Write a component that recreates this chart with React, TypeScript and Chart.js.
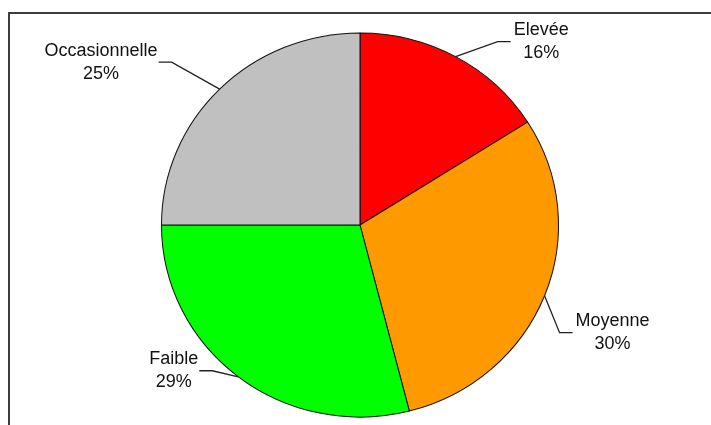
import React, { useEffect, useRef } from "react";
import { Chart, registerables } from "chart.js";

Chart.register(...registerables);

const categories = ["Elevée", "Moyenne", "Faible", "Occasionnelle"];
const shares = [16, 30, 29, 25];
const percentLabels = ["16%", "30%", "29%", "25%"];
const sliceColors = ["#FF0000", "#FF9900", "#00FF00", "#C0C0C0"];
// elbow offsets (px) of each leader line relative to the slice's outer edge midpoint
const leaderOffsets: [number, number][] = [
  [42, -15],
  [15, 37],
  [-26, -6],
  [-48, -27],
];

const W = 711;
const H = 425;
const SX = 1.018;
const SY = 0.985;

const framePlugin = {
  id: "frame",
  beforeDraw(chart: any) {
    const ctx = chart.ctx;
    ctx.save();
    ctx.fillStyle = "#ffffff";
    ctx.fillRect(0, 0, chart.width, chart.height);
    ctx.fillStyle = "#3c3c3c";
    ctx.fillRect(8, 12, chart.width - 8, 2);
    ctx.fillRect(8, 12, 2, chart.height - 12);
    ctx.restore();
  },
};

const ellipsePlugin = {
  id: "ellipse",
  beforeDatasetsDraw(chart: any) {
    const ctx = chart.ctx;
    const a = chart.chartArea;
    const cx = (a.left + a.right) / 2;
    const cy = (a.top + a.bottom) / 2;
    ctx.save();
    ctx.translate(cx, cy);
    ctx.scale(SX, SY);
    ctx.translate(-cx, -cy);
  },
  afterDatasetsDraw(chart: any) {
    chart.ctx.restore();
  },
};

const labelPlugin = {
  id: "leaderLabels",
  afterDatasetsDraw(chart: any) {
    const ctx = chart.ctx;
    const meta = chart.getDatasetMeta(0);
    ctx.save();
    ctx.font = "18px 'Liberation Sans', Arial, sans-serif";
    ctx.textBaseline = "middle";
    meta.data.forEach((arc: any, i: number) => {
      const p = arc.getProps(["x", "y", "startAngle", "endAngle", "outerRadius"], true);
      const mid = (p.startAngle + p.endAngle) / 2;
      const ex = p.x + Math.cos(mid) * p.outerRadius * SX;
      const ey = p.y + Math.sin(mid) * p.outerRadius * SY;
      const [ox, oy] = leaderOffsets[i];
      const bx = ex + ox;
      const by = ey + oy;
      const right = Math.cos(mid) >= 0;
      const sx = bx + (right ? 13 : -13);
      ctx.strokeStyle = "#222222";
      ctx.lineWidth = 1.3;
      ctx.beginPath();
      ctx.moveTo(ex, ey);
      ctx.lineTo(bx, by);
      ctx.lineTo(sx, by);
      ctx.stroke();
      const lines = [categories[i], percentLabels[i]];
      const boxW = Math.max(...lines.map((t) => ctx.measureText(t).width));
      const cx = right ? sx + 3 + boxW / 2 : sx - 1 - boxW / 2;
      ctx.fillStyle = "#111111";
      ctx.textAlign = "center";
      ctx.fillText(lines[0], cx, by - 11.5);
      ctx.fillText(lines[1], cx, by + 11.5);
    });
    ctx.restore();
  },
};

export default function App() {
  const ref = useRef<HTMLCanvasElement | null>(null);
  useEffect(() => {
    if (!ref.current) return;
    const chart = new Chart(ref.current, {
      type: "pie",
      data: {
        labels: categories,
        datasets: [
          {
            data: shares,
            backgroundColor: sliceColors,
            borderColor: "#111111",
            borderWidth: 1,
          },
        ],
      },
      options: {
        responsive: false,
        animation: false,
        radius: 195,
        layout: { padding: { left: 165, right: 156, top: 30, bottom: 5 } },
        plugins: {
          legend: { display: false },
          tooltip: { enabled: false },
        },
      } as any,
      plugins: [framePlugin, ellipsePlugin, labelPlugin],
    });
    return () => chart.destroy();
  }, []);
  return (
    <div style={{ position: "fixed", left: 0, top: 0, width: W, height: H, background: "#fff" }}>
      <canvas ref={ref} width={W} height={H} style={{ display: "block" }} />
    </div>
  );
}
